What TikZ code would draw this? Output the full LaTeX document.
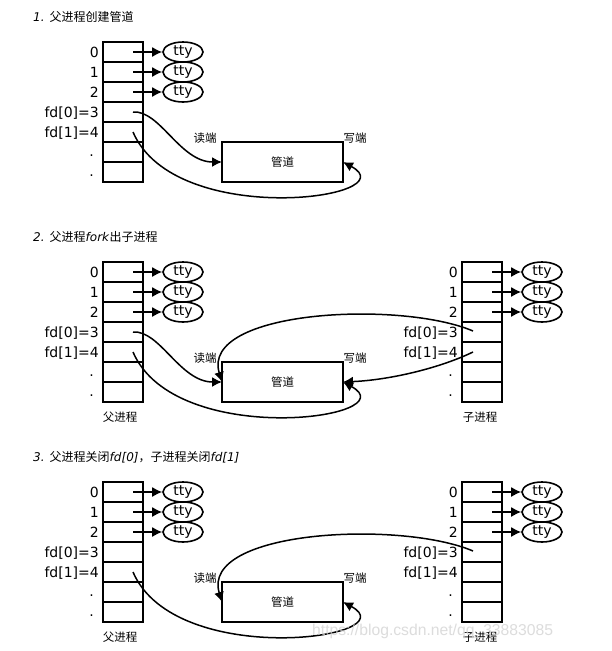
\documentclass[tikz,border=0pt]{standalone}
\usepackage{fontspec}
\setmainfont{DejaVu Sans}
\newfontfamily\cjk{Noto Sans CJK SC}
\newfontfamily\wmfont{Liberation Sans}
\usetikzlibrary{arrows.meta,shapes.geometric}
% #1 prefix, #2 table centre x, #3 label right x, #4 dot right x, #5 y offset
\newcommand\fdtable[5]{%
  \foreach \i in {0,...,6} {\node[cellbox] (#1r\i) at (#2,52+20*\i+#5) {};}
  \node[rowlbl] (#1l0) at (#3,57+#5) {0};
  \node[rowlbl] (#1l1) at (#3,77+#5) {1};
  \node[rowlbl] (#1l2) at (#3,97+#5) {2};
  \node[rowlbl] (#1l3) at (#3,117+#5) {fd[0]=3};
  \node[rowlbl] (#1l4) at (#3,137+#5) {fd[1]=4};
  \node[rowlbl] (#1l5) at (#4,156+#5) {.};
  \node[rowlbl] (#1l6) at (#4,176+#5) {.};
  \foreach \i in {0,1,2} {
    \node[ttynode] (#1e\i) at (#2+60,52+20*\i+#5) {tty};
    \coordinate (#1s\i) at (#2+10,52+20*\i+#5);
    \draw[ptr] (#1s\i) -- (#1e\i);
  }%
}
\begin{document}
\begin{tikzpicture}[x=1pt,y=-1pt,
  cellbox/.style={draw,line width=1.8pt,minimum width=40pt,minimum height=20pt,inner sep=0pt,outer sep=0pt},
  rowlbl/.style={anchor=base east,inner sep=0pt,font=\fontsize{14}{16}\selectfont},
  ttynode/.style={draw,ellipse,line width=1.6pt,minimum width=40pt,minimum height=20pt,inner sep=0pt,font=\fontsize{14}{16}\selectfont},
  ptr/.style={line width=1.5pt,-{Latex[length=10pt,width=10pt]}},
  pipebox/.style={draw,line width=1.8pt,minimum width=121pt,minimum height=40pt,inner sep=0pt,outer sep=0pt,font=\cjk\fontsize{11.5}{13}\selectfont},
  cnlbl/.style={inner sep=0pt,font=\cjk\fontsize{11.5}{13}\selectfont},
  ttl/.style={anchor=west,inner sep=0pt,font=\fontsize{12}{14}\selectfont}
]
\useasboundingbox[fill=white] (0,0) rectangle (611,651);

% ---------- titles ----------
\node[ttl] (t1) at (33,17) {\textit{1.} {\cjk 父进程创建管道}};
\node[ttl] (t2) at (33,237) {\textit{2.} {\cjk 父进程}\textit{fork}{\cjk 出子进程}};
\node[ttl] (t3) at (33,457) {\textit{3.} {\cjk 父进程关闭}\textit{fd[0]}{\cjk ，子进程关闭}\textit{fd[1]}};

% ---------- panel 1 ----------
\fdtable{pa1}{123}{99}{94}{0}
\node[pipebox] (pipe1) at (282.5,162) {管道};
\node[cnlbl] (rd1) at (205,138) {读端};
\node[cnlbl] (wr1) at (355,138) {写端};
\coordinate (pa1f0) at (133,112);
\coordinate (pa1f1) at (133,132);
\draw[ptr] (pa1f0) .. controls (160,110) and (180,162) .. (pipe1.west);
\draw[ptr] (pa1f1) .. controls (175,230) and (410,198) .. (pipe1.east);

% ---------- panel 2 ----------
\fdtable{pa2}{123}{99}{94}{220}
\fdtable{ch2}{482}{458}{453}{220}
\node[pipebox] (pipe2) at (282.5,382) {管道};
\node[cnlbl] (rd2) at (205,358) {读端};
\node[cnlbl] (wr2) at (355,358) {写端};
\node[cnlbl] (pn2) at (120,417) {父进程};
\node[cnlbl] (cn2) at (480,417) {子进程};
\coordinate (pa2f0) at (133,332);
\coordinate (pa2f1) at (133,352);
\coordinate (ch2f0) at (473,331);
\coordinate (ch2f1) at (473,352);
\draw[ptr] (pa2f0) .. controls (160,330) and (180,382) .. (pipe2.west);
\draw[ptr] (pa2f1) .. controls (175,450) and (410,418) .. (pipe2.east);
\draw[ptr] (ch2f0) .. controls (400,300) and (200,310) .. (pipe2.west);
\draw[ptr] (ch2f1) .. controls (440,368) and (390,380) .. (pipe2.east);

% ---------- panel 3 ----------
\fdtable{pa3}{123}{99}{94}{440}
\fdtable{ch3}{482}{458}{453}{440}
\node[pipebox] (pipe3) at (282.5,602) {管道};
\node[cnlbl] (rd3) at (205,578) {读端};
\node[cnlbl] (wr3) at (355,578) {写端};
\node[cnlbl] (pn3) at (120,637) {父进程};
\node[cnlbl] (cn3) at (480,637) {子进程};
\coordinate (pa3f1) at (133,572);
\coordinate (ch3f0) at (473,551);
\draw[ptr] (pa3f1) .. controls (175,670) and (410,638) .. (pipe3.east);
\draw[ptr] (ch3f0) .. controls (400,520) and (200,530) .. (pipe3.west);

% ---------- watermark ----------
\node[anchor=base west,inner sep=0pt,font=\wmfont\fontsize{15.7}{18}\selectfont,text=black!18,opacity=0.75] (wm) at (312,635) {https://blog.csdn.net/qq\_33883085};
\end{tikzpicture}
\end{document}
